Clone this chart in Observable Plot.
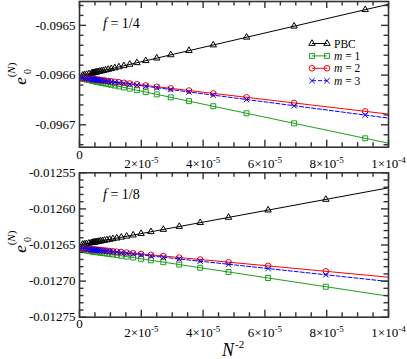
<!DOCTYPE html>
<html><head><meta charset="utf-8">
<script src="https://cdn.jsdelivr.net/npm/d3@7"></script>
<script src="https://cdn.jsdelivr.net/npm/@observablehq/plot@0.6"></script>
<style>body{margin:0;background:#fff} #chart svg{display:block}</style>
</head><body><div id="chart"></div>
<script>
// ---------- data ----------
const fitX = [0, 1e-4];
const xMajor = [0, 2e-5, 4e-5, 6e-5, 8e-5, 1e-4];
const xMinor = [0.5e-5, 1e-5, 1.5e-5, 2.5e-5, 3e-5, 3.5e-5, 4.5e-5, 5e-5, 5.5e-5, 6.5e-5, 7e-5, 7.5e-5, 8.5e-5, 9e-5, 9.5e-5];
const xTickBase = ["0", "2×10", "4×10", "6×10", "8×10", "1×10"];
const xTickExp = ["", "-5", "-5", "-5", "-5", "-4"];

const seriesNames = ["PBC", "m = 1", "m = 2", "m = 3"];

// f = 1/4 panel
const N_top = [104,120,136,152,168,184,200,216,232,248,264,280,296,312,328,344,360,376,392,408,424,440,456,472,488,504,568,664,800,1000];
const top_PBC = [-0.0964685,-0.0965017,-0.0965239,-0.0965395,-0.0965508,-0.0965593,-0.0965659,-0.0965711,-0.0965752,-0.0965785,-0.0965813,-0.0965836,-0.0965855,-0.0965872,-0.0965886,-0.0965898,-0.0965909,-0.0965918,-0.0965926,-0.0965933,-0.0965940,-0.0965945,-0.0965951,-0.0965955,-0.0965959,-0.0965963,-0.0965975,-0.0965987,-0.0965997,-0.0966006];
const top_m1 = [-0.0967271,-0.0966970,-0.0966768,-0.0966627,-0.0966524,-0.0966447,-0.0966388,-0.0966341,-0.0966303,-0.0966273,-0.0966248,-0.0966227,-0.0966210,-0.0966195,-0.0966182,-0.0966171,-0.0966161,-0.0966153,-0.0966145,-0.0966139,-0.0966133,-0.0966128,-0.0966123,-0.0966119,-0.0966115,-0.0966112,-0.0966101,-0.0966090,-0.0966080,-0.0966073];
const top_m2 = [-0.0966729,-0.0966560,-0.0966447,-0.0966368,-0.0966310,-0.0966267,-0.0966234,-0.0966207,-0.0966186,-0.0966169,-0.0966155,-0.0966144,-0.0966134,-0.0966125,-0.0966118,-0.0966112,-0.0966107,-0.0966102,-0.0966098,-0.0966094,-0.0966091,-0.0966088,-0.0966085,-0.0966083,-0.0966081,-0.0966079,-0.0966073,-0.0966067,-0.0966061,-0.0966057];
const top_m3 = [-0.0966804,-0.0966616,-0.0966491,-0.0966403,-0.0966339,-0.0966291,-0.0966254,-0.0966225,-0.0966201,-0.0966183,-0.0966167,-0.0966154,-0.0966143,-0.0966134,-0.0966126,-0.0966119,-0.0966113,-0.0966108,-0.0966103,-0.0966099,-0.0966095,-0.0966092,-0.0966089,-0.0966087,-0.0966084,-0.0966082,-0.0966075,-0.0966068,-0.0966063,-0.0966058];
const top_fit_PBC = [-0.0966020, -0.0964576];
const top_fit_m1 = [-0.0966060, -0.0967370];
const top_fit_m2 = [-0.0966050, -0.0966784];
const top_fit_m3 = [-0.0966050, -0.0966865];
const top_yMajor = [-0.0967, -0.0966, -0.0965];
const top_yMinor = [-0.09674,-0.09672,-0.09668,-0.09666,-0.09664,-0.09662,-0.09658,-0.09656,-0.09654,-0.09652,-0.09648,-0.09646];

// f = 1/8 panel
const N_bot = [112,128,144,160,176,192,208,224,240,256,272,288,304,320,336,352,368,384,400,416,432,448,464,480,496,512,576,672,800,1000];
const bot_PBC = [-0.0125869,-0.0126017,-0.0126118,-0.0126191,-0.0126244,-0.0126285,-0.0126317,-0.0126342,-0.0126363,-0.0126379,-0.0126393,-0.0126405,-0.0126414,-0.0126423,-0.0126430,-0.0126436,-0.0126442,-0.0126446,-0.0126451,-0.0126454,-0.0126458,-0.0126461,-0.0126463,-0.0126466,-0.0126468,-0.0126470,-0.0126476,-0.0126482,-0.0126488,-0.0126492];
const bot_m1 = [-0.0127078,-0.0126957,-0.0126874,-0.0126815,-0.0126771,-0.0126738,-0.0126712,-0.0126691,-0.0126674,-0.0126661,-0.0126649,-0.0126640,-0.0126632,-0.0126625,-0.0126619,-0.0126614,-0.0126610,-0.0126606,-0.0126602,-0.0126599,-0.0126597,-0.0126594,-0.0126592,-0.0126590,-0.0126588,-0.0126587,-0.0126582,-0.0126576,-0.0126572,-0.0126568];
const bot_m2 = [-0.0126864,-0.0126789,-0.0126738,-0.0126701,-0.0126674,-0.0126653,-0.0126637,-0.0126624,-0.0126614,-0.0126605,-0.0126598,-0.0126592,-0.0126588,-0.0126583,-0.0126580,-0.0126576,-0.0126574,-0.0126571,-0.0126569,-0.0126567,-0.0126566,-0.0126564,-0.0126563,-0.0126561,-0.0126560,-0.0126559,-0.0126556,-0.0126553,-0.0126550,-0.0126548];
const bot_m3 = [-0.0126912,-0.0126826,-0.0126767,-0.0126724,-0.0126693,-0.0126669,-0.0126651,-0.0126636,-0.0126624,-0.0126614,-0.0126606,-0.0126600,-0.0126594,-0.0126589,-0.0126585,-0.0126581,-0.0126578,-0.0126575,-0.0126573,-0.0126571,-0.0126569,-0.0126567,-0.0126565,-0.0126564,-0.0126563,-0.0126562,-0.0126558,-0.0126554,-0.0126551,-0.0126549];
const bot_fit_PBC = [-0.0126500, -0.0125708];
const bot_fit_m1 = [-0.0126562, -0.0127209];
const bot_fit_m2 = [-0.0126544, -0.0126946];
const bot_fit_m3 = [-0.0126544, -0.0127006];
const bot_yMajor = [-0.01275, -0.0127, -0.01265, -0.0126, -0.01255];
const bot_yMinor = [-0.01274,-0.01273,-0.01272,-0.01271,-0.01269,-0.01268,-0.01267,-0.01266,-0.01264,-0.01263,-0.01262,-0.01261,-0.01259,-0.01258,-0.01257,-0.01256];

// ---------- styling ----------
const W = 407, ML = 79, MR = 19;
const FW = W - ML - MR;
const xDomain = [0, 1e-4];
const FRAME = "#333333";
const FONT = "'Liberation Serif', 'Times New Roman', serif";
const styles = [
  {color: "#000000", symbol: "triangle", r: 2.4, dash: null},
  {color: "#1e9e1e", symbol: "square", r: 2.8, dash: null},
  {color: "#ff0000", symbol: "circle", r: 2.8, dash: null},
  {color: "#0000ff", symbol: "times", r: 2.6, dash: "4,2"}
];
const d3sym = {triangle: d3.symbolTriangle, square: d3.symbolSquare, circle: d3.symbolCircle, times: d3.symbolTimes};

function panel(o) {
  const FH = o.height - o.mt - o.mb;
  const [y0, y1] = o.yDomain, [x0, x1] = xDomain;
  const ypp = (y1 - y0) / FH;   // data units per pixel (y)
  const xpp = (x1 - x0) / FW;   // data units per pixel (x)
  const marks = [];
  o.vals.forEach((vals, k) => {
    const st = styles[k];
    const rows = o.N.map((n, i) => ({x: 1 / (n * n), y: vals[i]}));
    const ends = fitX.map((x, i) => ({x, y: o.fits[k][i]}));
    marks.push(Plot.line(ends, {x: "x", y: "y", stroke: st.color, strokeWidth: 1, strokeDasharray: st.dash}));
    marks.push(Plot.dot(rows, {x: "x", y: "y", symbol: st.symbol, r: st.r, stroke: st.color, fill: "none", strokeWidth: 1}));
  });
  marks.push(Plot.frame({stroke: FRAME, strokeWidth: 1.6}));
  // inward ticks on all four sides
  const tk = {stroke: FRAME, strokeWidth: 1.4};
  for (const [vals, len] of [[xMajor, 7], [xMinor, 4.5]]) {
    marks.push(Plot.ruleX(vals, {x: d => d, y1: y0, y2: y0 + len * ypp, ...tk}));
    marks.push(Plot.ruleX(vals, {x: d => d, y1: y1 - len * ypp, y2: y1, ...tk}));
  }
  for (const [vals, len] of [[o.yMajor, 7], [o.yMinor, 4.5]]) {
    marks.push(Plot.ruleY(vals, {y: d => d, x1: x0, x2: x0 + len * xpp, ...tk}));
    marks.push(Plot.ruleY(vals, {y: d => d, x1: x1 - len * xpp, x2: x1, ...tk}));
  }
  // tick labels
  marks.push(Plot.axisY({anchor: "left", ticks: o.yMajor, tickSize: 0, tickPadding: 4, tickFormat: d => d.toFixed(o.dec), label: null, fill: "#000"}));
  marks.push(Plot.axisX({anchor: "bottom", ticks: xMajor, tickSize: 0, tickPadding: o.xpad, label: null, fill: "#000",
    tickFormat: d => { const i = xMajor.indexOf(d); return xTickBase[i] + "^" + xTickExp[i]; }}));

  const svg = Plot.plot({
    width: W, height: o.height,
    marginLeft: ML, marginRight: MR, marginTop: o.mt, marginBottom: o.mb,
    x: {domain: xDomain, label: null},
    y: {domain: o.yDomain, label: null},
    style: {fontFamily: FONT, fontSize: "13px", color: "#000", background: "#fff", overflow: "visible"},
    marks
  });
  const s = d3.select(svg);
  // x tick labels with superscripts
  s.selectAll("text").filter(function () { return this.textContent.includes("^"); }).each(function () {
    const [base, exp] = this.textContent.split("^");
    this.textContent = "";
    const t = d3.select(this);
    t.append("tspan").attr("dy", exp ? 9 : 0).text(base);
    if (exp) t.append("tspan").attr("dy", -5).attr("font-size", 9).text(exp);
  });
  // y axis label e_0^(N)
  const cy = o.labelY;
  s.append("text").attr("transform", `translate(25.5,${cy}) rotate(-90)`).attr("text-anchor", "middle")
    .attr("font-size", 17).attr("font-style", "italic").attr("font-family", FONT).text("e");
  s.append("text").attr("transform", `translate(30.5,${cy - 9.5}) rotate(-90)`).attr("text-anchor", "middle")
    .attr("font-size", 10).attr("font-family", FONT).text("0");
  const sup = s.append("text").attr("transform", `translate(15,${cy - 11}) rotate(-90)`).attr("text-anchor", "middle")
    .attr("font-size", 11).attr("font-family", FONT);
  sup.append("tspan").text("(");
  sup.append("tspan").attr("font-style", "italic").text("N");
  sup.append("tspan").text(")");
  // f label
  const f = s.append("text").attr("x", 103).attr("y", o.fY).attr("text-anchor", "start")
    .attr("font-size", 14).attr("font-family", FONT);
  f.append("tspan").attr("font-style", "italic").text("f");
  f.append("tspan").text(" = " + o.fText);
  return svg;
}

const topSvg = panel({
  N: N_top, vals: [top_PBC, top_m1, top_m2, top_m3],
  fits: [top_fit_PBC, top_fit_m1, top_fit_m2, top_fit_m3],
  yDomain: [-0.096745, -0.096452], yMajor: top_yMajor, yMinor: top_yMinor, dec: 4,
  height: 170, mt: 1, mb: 23.3, xpad: 3, labelY: 81, fY: 28, fText: "1/4"
});
const botSvg = panel({
  N: N_bot, vals: [bot_PBC, bot_m1, bot_m2, bot_m3],
  fits: [bot_fit_PBC, bot_fit_m1, bot_fit_m2, bot_fit_m3],
  yDomain: [-0.01275, -0.01255], yMajor: bot_yMajor, yMinor: bot_yMinor, dec: 5,
  height: 189, mt: 2.3, mb: 42.3, xpad: 2, labelY: 79, fY: 29, fText: "1/8"
});

const root = document.getElementById("chart");
root.appendChild(topSvg);
root.appendChild(botSvg);

// legend in top panel
{
  const s = d3.select(topSvg);
  const g = s.append("g").attr("font-family", FONT).attr("font-size", 11.5).attr("text-anchor", "start");
  seriesNames.forEach((name, k) => {
    const st = styles[k];
    const y = 43.5 + 12.4 * k;
    g.append("line").attr("x1", 312).attr("x2", 327).attr("y1", y).attr("y2", y)
      .attr("stroke", st.color).attr("stroke-width", 1).attr("stroke-dasharray", st.dash);
    for (const x of [312, 327]) {
      g.append("path").attr("transform", `translate(${x},${y})`)
        .attr("d", d3.symbol(d3sym[st.symbol], Math.PI * st.r * st.r)())
        .attr("fill", "none").attr("stroke", st.color);
    }
    if (name.startsWith("m")) {
      const m = g.append("text").attr("x", 334).attr("y", y + 4).attr("font-style", "italic").text("m");
      const w = m.node().getComputedTextLength();
      g.append("text").attr("x", 334 + w).attr("y", y + 4).text(name.slice(1));
    } else {
      g.append("text").attr("x", 334).attr("y", y + 4).text(name);
    }
  });
}
// x axis title N^-2
{
  const t = d3.select(botSvg).append("text").attr("x", 222).attr("y", 186).attr("text-anchor", "start")
    .attr("font-family", FONT).attr("font-size", 18);
  t.append("tspan").attr("font-style", "italic").text("N");
  t.append("tspan").attr("font-size", 11).attr("dy", -8).attr("dx", 1).text("-2");
}
</script>
</body></html>
